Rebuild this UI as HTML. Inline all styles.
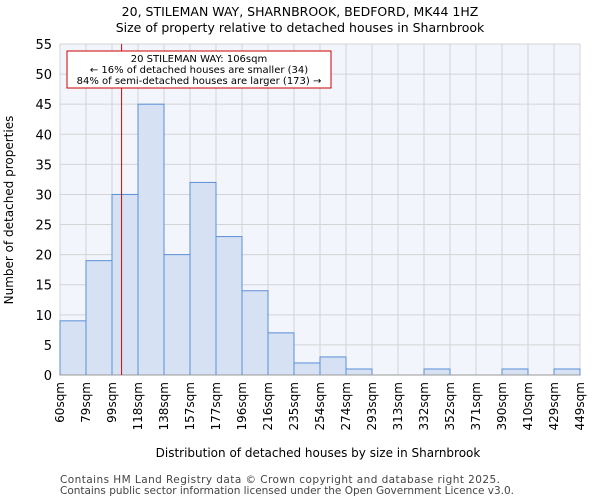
<!DOCTYPE html>
<html><head><meta charset="utf-8"><style>
body{margin:0;background:#fff;font-family:"DejaVu Sans","Liberation Sans",sans-serif;}
</style></head><body>
<svg id="chart" width="600" height="500" xmlns="http://www.w3.org/2000/svg" font-family="DejaVu Sans, Liberation Sans, sans-serif">
<text x="300" y="16" text-anchor="middle" font-size="12.5">20, STILEMAN WAY, SHARNBROOK, BEDFORD, MK44 1HZ</text>
<text x="300" y="32" text-anchor="middle" font-size="12.5">Size of property relative to detached houses in Sharnbrook</text>
<rect x="60" y="44" width="520" height="331" fill="#f2f5fc"/>
<g id="grid"></g><g id="bars"></g><g id="axes"></g>
<text x="318" y="457" text-anchor="middle" font-size="12">Distribution of detached houses by size in Sharnbrook</text>
<text transform="translate(13,210) rotate(-90)" text-anchor="middle" font-size="12">Number of detached properties</text>
<text x="60" y="483" font-size="10.5" fill="#444" textLength="440">Contains HM Land Registry data © Crown copyright and database right 2025.</text>
<text x="60" y="494" font-size="10.5" fill="#444" textLength="454">Contains public sector information licensed under the Open Government Licence v3.0.</text>
</svg>
<script>
const binLabels=["60sqm","79sqm","99sqm","118sqm","138sqm","157sqm","177sqm","196sqm","216sqm","235sqm","254sqm","274sqm","293sqm","313sqm","332sqm","352sqm","371sqm","390sqm","410sqm","429sqm","449sqm"];
const binEdges=[60,79,99,118,138,157,177,196,216,235,254,274,293,313,332,352,371,390,410,429,449];
const counts=[9,19,30,45,20,32,23,14,7,2,3,1,0,0,1,0,0,1,0,1];
const yTicks=[0,5,10,15,20,25,30,35,40,45,50,55];
const subjectSize=106;
const NS="http://www.w3.org/2000/svg";
const X0=60,X1=580,Y0=375,Y1=44,yMax=55;
const bw=(X1-X0)/counts.length;
const xi=i=>X0+i*bw;
const y=v=>Y0-(v/yMax)*(Y0-Y1);
function xv(v){for(let i=0;i<binEdges.length-1;i++){if(v<=binEdges[i+1])return xi(i)+(v-binEdges[i])/(binEdges[i+1]-binEdges[i])*bw;}return X1;}
function mk(t,a,p){const e=document.createElementNS(NS,t);for(const k in a)e.setAttribute(k,a[k]);p.appendChild(e);return e;}
const grid=document.getElementById('grid'),bars=document.getElementById('bars'),axes=document.getElementById('axes');
yTicks.forEach(t=>{
 const l=mk('line',{x1:X0,x2:X1,y1:y(t),y2:y(t),stroke:'#d4d4d4'},grid);
 
 
 const tx=mk('text',{x:X0-8,y:y(t)+5,'text-anchor':'end','font-size':'13'},axes);
 tx.textContent=t;
 
 
});
binLabels.forEach((lab,i)=>{
 const l=mk('line',{x1:xi(i),x2:xi(i),y1:Y1,y2:Y0,stroke:'#d4d4d4'},grid);
 
 
 const tx=mk('text',{x:0,y:0,'text-anchor':'end','font-size':'12',transform:`translate(${xi(i)+4},${Y0+7}) rotate(-90)`},axes);
 tx.textContent=lab;
 
 
});
counts.forEach((c,i)=>{
 if(c<=0)return;
 const r=mk('rect',{x:xi(i),y:y(c),width:bw,height:Y0-y(c),fill:'#d6e2f4',stroke:'#5b8ed6','stroke-width':1},bars);
 
 
});
const ax=mk('line',{x1:X0,x2:X1,y1:Y0,y2:Y0,stroke:'#999'},axes);


const sx=xv(subjectSize);
const rl=mk('line',{x1:sx,x2:sx,y1:Y1,y2:Y0,stroke:'#e00000','stroke-width':1},axes);


const box=mk('rect',{x:67,y:51,width:264,height:37,fill:'#fff',stroke:'#cc0000'},axes);


["20 STILEMAN WAY: 106sqm","← 16% of detached houses are smaller (34)","84% of semi-detached houses are larger (173) →"].forEach((s,k)=>{
 const t=mk('text',{x:199,y:62+k*11,'text-anchor':'middle','font-size':'10'},axes);
 t.textContent=s;
 
 
});
</script>
</body></html>
